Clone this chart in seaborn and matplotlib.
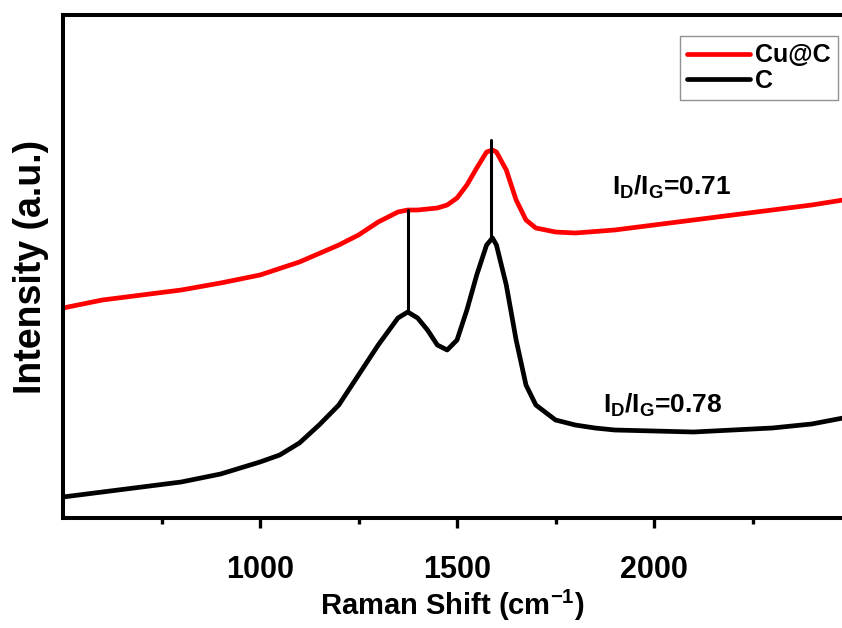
import matplotlib
matplotlib.use("Agg")
import matplotlib.pyplot as plt
from matplotlib.ticker import FixedLocator
import seaborn as sns
import pandas as pd

# Raman spectra (arbitrary intensity units)
shift_c = [500, 600, 700, 800, 900, 1000, 1050, 1100, 1150, 1200, 1250, 1300,
           1350, 1375, 1400, 1425, 1450, 1475, 1500, 1525, 1550, 1575, 1590,
           1600, 1625, 1650, 1675, 1700, 1750, 1800, 1850, 1900, 2000, 2100,
           2200, 2300, 2400, 2480]
int_c = [21, 26, 31, 36, 44, 56, 63, 75, 93, 113, 143, 173,
         200, 206, 200, 188, 173, 168, 178, 208, 243, 273, 280,
         273, 233, 178, 133, 113, 98, 93, 90, 88, 87, 86,
         88, 90, 94, 100]

shift_cuc = [500, 600, 700, 800, 900, 1000, 1100, 1200, 1250, 1300, 1350, 1375,
             1400, 1450, 1475, 1500, 1525, 1550, 1575, 1590, 1600, 1625, 1650,
             1675, 1700, 1750, 1800, 1900, 2000, 2100, 2200, 2300, 2400, 2480]
int_cuc = [210, 218, 223, 228, 235, 243, 256, 273, 283, 296, 306, 308,
           308, 310, 313, 320, 333, 350, 366, 368, 366, 348, 318,
           298, 290, 286, 285, 288, 293, 298, 303, 308, 313, 318]

# D and G band markers: (position, bottom, top)
d_band = (1375, 206, 308)
g_band = (1587, 280, 378)
ratios = ["0.71", "0.78"]

major_ticks = [1000, 1500, 2000]
minor_ticks = [750, 1250, 1750, 2250]

df = pd.concat([
    pd.DataFrame({"shift": shift_cuc, "intensity": int_cuc, "sample": "Cu@C"}),
    pd.DataFrame({"shift": shift_c, "intensity": int_c, "sample": "C"}),
])

sns.set_style("ticks")
plt.rcParams["font.family"] = ["Liberation Sans", "DejaVu Sans"]
plt.rcParams["font.weight"] = "bold"
plt.rcParams["mathtext.fontset"] = "custom"
plt.rcParams["mathtext.bf"] = "Liberation Sans:bold"
plt.rcParams["mathtext.rm"] = "Liberation Sans:bold"
plt.rcParams["text.color"] = "black"
plt.rcParams["axes.labelcolor"] = "black"
plt.rcParams["xtick.color"] = "black"
plt.rcParams["axes.edgecolor"] = "black"

fig = plt.figure(figsize=(8.42, 6.28), dpi=100)
ax = fig.add_axes([63 / 842, 110 / 628, 1 - 63 / 842, 503 / 628])

sns.lineplot(data=df, x="shift", y="intensity", hue="sample",
             hue_order=["Cu@C", "C"], palette=["#ff0000", "black"],
             estimator=None, sort=False, linewidth=3.4, ax=ax)

# band marker lines
ax.plot([d_band[0], d_band[0]], [d_band[1], d_band[2]], color="black", lw=2.2)
ax.plot([g_band[0], g_band[0]], [g_band[1], g_band[2]], color="black", lw=2.2)

ax.text(1893, 323, r"$\mathbf{I_D/I_G}$=" + ratios[0], fontsize=19, fontweight="bold")
ax.text(1870, 105, r"$\mathbf{I_D/I_G}$=" + ratios[1], fontsize=19, fontweight="bold")

ax.set_xlim(500, 2477)
ax.set_ylim(0, 503)
ax.set_yticks([])
ax.xaxis.set_major_locator(FixedLocator(major_ticks))
ax.xaxis.set_minor_locator(FixedLocator(minor_ticks))
ax.tick_params(axis="x", which="major", direction="out", length=7, width=2.4,
               labelsize=22, pad=20)
ax.tick_params(axis="x", which="minor", direction="out", length=4.5, width=2.4)
for lab in ax.get_xticklabels():
    lab.set_fontweight("bold")

for side in ["left", "bottom", "top"]:
    ax.spines[side].set_linewidth(2.9)
ax.spines["right"].set_visible(False)

ax.set_xlabel(r"Raman Shift (cm$^{\mathbf{-1}}$)", fontsize=21, fontweight="bold", labelpad=2)
ax.set_ylabel("Intensity (a.u.)", fontsize=27, fontweight="bold", labelpad=10)

leg = ax.legend(loc="upper right", bbox_to_anchor=((838 - 63) / 779, (518 - 36) / 503),
                fontsize=18, frameon=True, fancybox=False, handlelength=2.5,
                handletextpad=0.2, borderpad=0.3, labelspacing=0.05, borderaxespad=0)
leg.get_frame().set_edgecolor("#777777")
leg.get_frame().set_linewidth(1.0)
for t in leg.get_texts():
    t.set_fontweight("bold")
for h in leg.get_lines():
    h.set_linewidth(3.4)

fig.savefig("out.png", dpi=100)
